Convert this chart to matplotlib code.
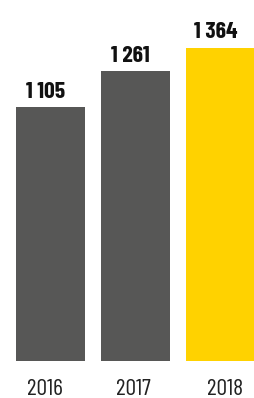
import matplotlib.pyplot as plt
from matplotlib.transforms import ScaledTranslation

years = ['2016', '2017', '2018']
values = [1105, 1261, 1364]
labels = ['1 105', '1 261', '1 364']
colors = ['#575756', '#575756', '#FFD200']

plt.rcParams['font.family'] = ['Barlow Condensed', 'DejaVu Sans']

fig = plt.figure(figsize=(2.55, 3.98), dpi=100)
ax = fig.add_axes([0, 1 - 361 / 398, 1, 361 / 398])

x = range(len(years))
ax.bar(x, values, width=0.81, color=colors)

# value labels above each bar (sit a little left of centre in the original)
for i, v in enumerate(values):
    ax.annotate(labels[i], (i, v), xytext=(-3.5, 4), textcoords='offset points',
                ha='center', va='bottom', fontsize=17, fontweight='bold', color='#111111')

ax.set_xlim(-0.593, 2.405)
ax.set_ylim(0, 1572)
ax.set_xticks(list(x))
ax.set_xticklabels(years, fontsize=17, color='#222222')
ax.tick_params(axis='x', length=0, pad=13)
# year labels are not quite under the bar centres
shifts = [-6, -2, 5]
for lab, dx in zip(ax.get_xticklabels(), shifts):
    lab.set_transform(lab.get_transform() + ScaledTranslation(dx / 100, 0, fig.dpi_scale_trans))
ax.set_yticks([])
for s in ax.spines.values():
    s.set_visible(False)

fig.savefig('out.png', dpi=100)
